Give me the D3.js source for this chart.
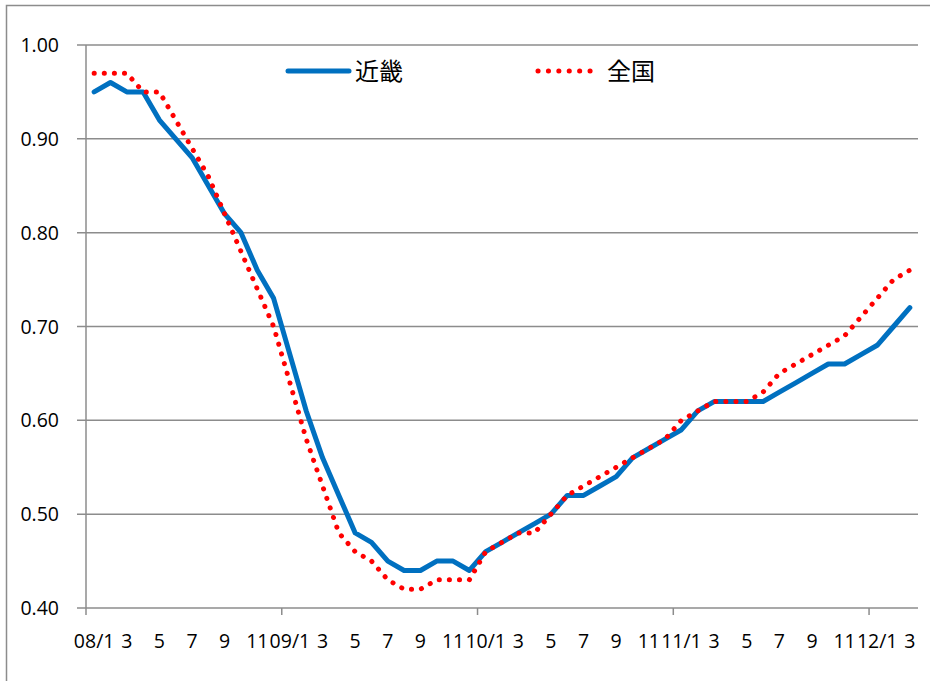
<!DOCTYPE html>
<html>
<head>
<meta charset="utf-8">
<script src="https://cdn.jsdelivr.net/npm/d3@7"></script>
<style>
  body { margin: 0; background: #fff; }
  text { font-family: "Open Sans", "Noto Sans CJK JP", sans-serif; }
</style>
</head>
<body>
<svg id="chart"></svg>
<script>
(function () {
    // months 08/1 .. 12/3
    const months = [];
    for (let y = 8; y <= 12; y++) {
        for (let m = 1; m <= 12; m++) {
            if (y === 12 && m > 3) break;
            months.push(String(y).padStart(2, "0") + "/" + m);
        }
    }
    const seriesNames = ["近畿", "全国"];
    const kinki = [0.95, 0.96, 0.95, 0.95, 0.92, 0.90, 0.88, 0.85, 0.82, 0.80, 0.76, 0.73,
                   0.67, 0.61, 0.56, 0.52, 0.48, 0.47, 0.45, 0.44, 0.44, 0.45, 0.45, 0.44,
                   0.46, 0.47, 0.48, 0.49, 0.50, 0.52, 0.52, 0.53, 0.54, 0.56, 0.57, 0.58,
                   0.59, 0.61, 0.62, 0.62, 0.62, 0.62, 0.63, 0.64, 0.65, 0.66, 0.66, 0.67,
                   0.68, 0.70, 0.72];
    const zenkoku = [0.97, 0.97, 0.97, 0.95, 0.95, 0.92, 0.89, 0.86, 0.82, 0.78, 0.74, 0.70,
                     0.64, 0.58, 0.53, 0.48, 0.46, 0.45, 0.43, 0.42, 0.42, 0.43, 0.43, 0.43,
                     0.46, 0.47, 0.48, 0.48, 0.50, 0.52, 0.53, 0.54, 0.55, 0.56, 0.57, 0.58,
                     0.60, 0.61, 0.62, 0.62, 0.62, 0.63, 0.65, 0.66, 0.67, 0.68, 0.69, 0.71,
                     0.73, 0.75, 0.76];
    const yTicks = [0.40, 0.50, 0.60, 0.70, 0.80, 0.90, 1.00];

    const W = 930, H = 681;
    const margin = { top: 45, right: 12, bottom: 73, left: 86 };

    const svg = d3.select("#chart").attr("width", W).attr("height", H);

    // chart border
    svg.append("rect")
        .attr("x", 6.5).attr("y", 5.5)
        .attr("width", W).attr("height", H)
        .attr("fill", "none").attr("stroke", "#8c8c8c").attr("stroke-width", 1.5);

    const x = d3.scaleBand()
        .domain(months)
        .range([margin.left, W - margin.right]);

    const y = d3.scaleLinear()
        .domain([0.4, 1.0])
        .range([H - margin.bottom, margin.top]);

    // gridlines
    svg.append("g")
        .selectAll("line")
        .data(yTicks)
        .enter().append("line")
        .attr("x1", margin.left - 9).attr("x2", W - margin.right)
        .attr("y1", d => y(d)).attr("y2", d => y(d))
        .attr("stroke", "#8c8c8c").attr("stroke-width", 1.5);

    // y axis line
    svg.append("line")
        .attr("x1", margin.left).attr("x2", margin.left)
        .attr("y1", y(1.0)).attr("y2", y(0.4))
        .attr("stroke", "#8c8c8c").attr("stroke-width", 1.5);

    // y labels
    svg.append("g")
        .selectAll("text")
        .data(yTicks)
        .enter().append("text")
        .attr("x", 59).attr("y", d => y(d))
        .attr("dy", "0.36em")
        .attr("text-anchor", "end")
        .attr("font-size", 19.5)
        .text(d => d.toFixed(2));

    // x ticks at year boundaries
    const yearStarts = months.filter(m => m.endsWith("/1"));
    svg.append("g")
        .selectAll("line")
        .data(yearStarts)
        .enter().append("line")
        .attr("x1", d => x(d)).attr("x2", d => x(d))
        .attr("y1", y(0.4)).attr("y2", y(0.4) + 7)
        .attr("stroke", "#8c8c8c").attr("stroke-width", 1.5);

    // x labels, every other month
    svg.append("g")
        .selectAll("text")
        .data(months.filter((m, i) => i % 2 === 0))
        .enter().append("text")
        .attr("x", d => x(d) + x.bandwidth() / 2)
        .attr("y", 648)
        .attr("text-anchor", "middle")
        .attr("font-size", 19.5)
        .text(d => d.endsWith("/1") ? d : d.split("/")[1]);

    const line = d3.line()
        .x((d, i) => x(months[i]) + x.bandwidth() / 2)
        .y(d => y(d));

    svg.append("path")
        .attr("d", line(kinki))
        .attr("fill", "none")
        .attr("stroke", "#0070c0")
        .attr("stroke-width", 5)
        .attr("stroke-linejoin", "round")
        .attr("stroke-linecap", "round");

    svg.append("path")
        .attr("d", line(zenkoku))
        .attr("fill", "none")
        .attr("stroke", "#ff0000")
        .attr("stroke-width", 5)
        .attr("stroke-linecap", "round")
        .attr("stroke-dasharray", "0.1 10");

    // legend
    const legend = svg.append("g");
    legend.append("line")
        .attr("x1", 288).attr("x2", 349).attr("y1", 71).attr("y2", 71)
        .attr("stroke", "#0070c0").attr("stroke-width", 5).attr("stroke-linecap", "round");
    legend.append("text")
        .attr("x", 355).attr("y", 71).attr("dy", "0.36em")
        .attr("font-size", 24)
        .style("font-family", "'Noto Sans CJK JP'")
        .text(seriesNames[0]);
    legend.append("line")
        .attr("x1", 538).attr("x2", 595).attr("y1", 71).attr("y2", 71)
        .attr("stroke", "#ff0000").attr("stroke-width", 5).attr("stroke-linecap", "round")
        .attr("stroke-dasharray", "0.1 10.3");
    legend.append("text")
        .attr("x", 607).attr("y", 71).attr("dy", "0.36em")
        .attr("font-size", 24)
        .style("font-family", "'Noto Sans CJK JP'")
        .text(seriesNames[1]);
})();
</script>
</body>
</html>
